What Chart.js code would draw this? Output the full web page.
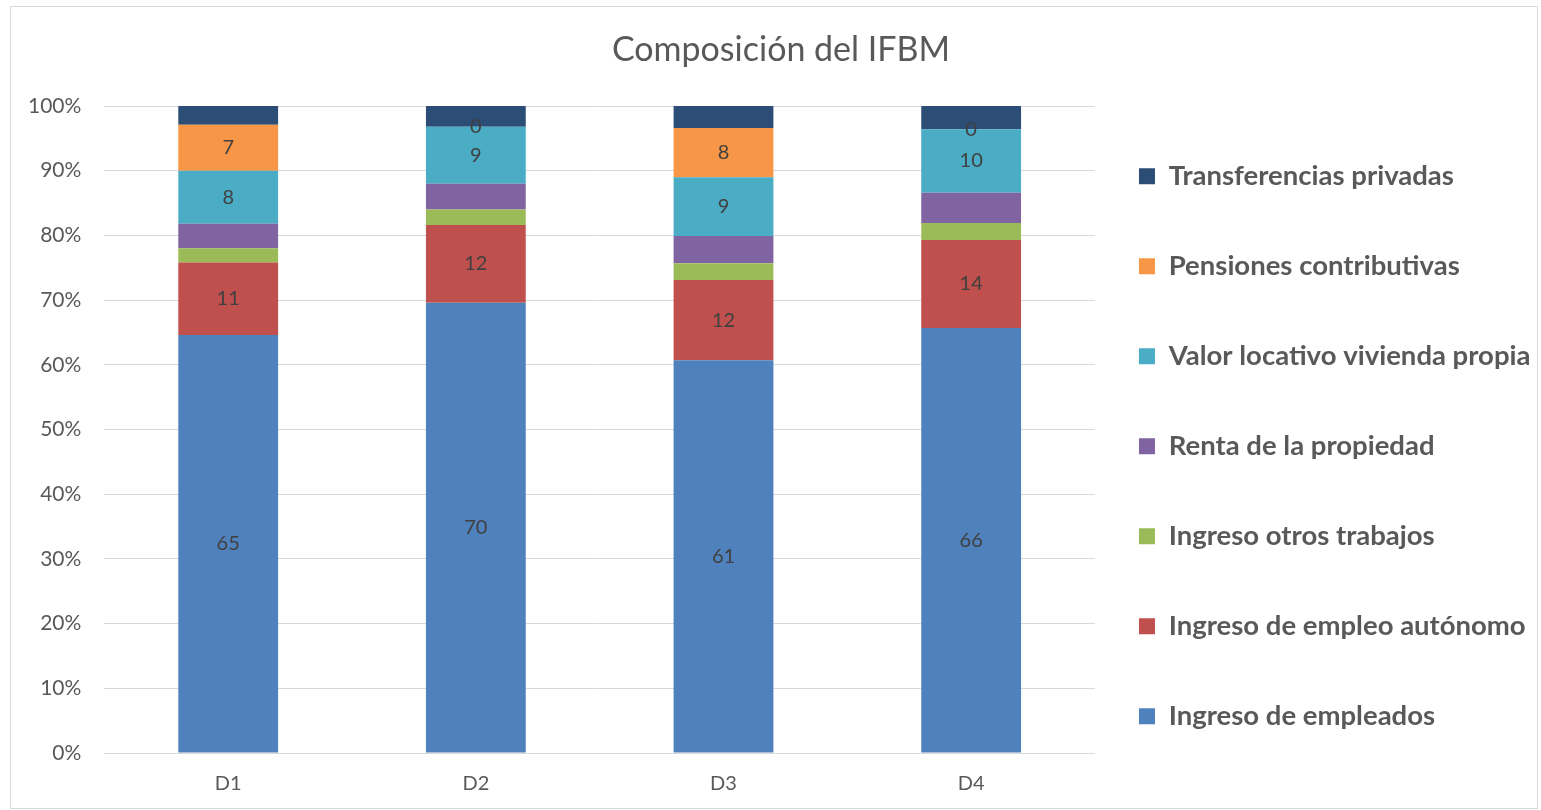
<!DOCTYPE html>
<html>
<head>
<meta charset="utf-8">
<script src="https://cdn.jsdelivr.net/npm/chart.js@4.4.1/dist/chart.umd.min.js"></script>
<style>
  body { margin: 0; background: #fff; }
  #marco { position: absolute; left: 10px; top: 6px; width: 1526px; height: 801px; border: 1px solid #d9d9d9; }
</style>
</head>
<body>
<div id="marco"><canvas id="grafico" width="1526" height="801"></canvas></div>
<script>
// datos (porcentajes de cada decil)
const deciles = ['D1', 'D2', 'D3', 'D4'];
const ingresoEmpleados = [64.6, 69.6, 60.7, 65.7];
const ingresoAutonomo = [11.2, 12.0, 12.4, 13.6];
const ingresoOtrosTrabajos = [2.2, 2.4, 2.6, 2.6];
const rentaPropiedad = [3.8, 4.0, 4.2, 4.7];
const valorLocativo = [8.2, 8.8, 9.1, 9.8];
const pensiones = [7.1, 0, 7.6, 0];
const transferencias = [2.9, 3.2, 3.4, 3.6];
const ticksY = [0, 10, 20, 30, 40, 50, 60, 70, 80, 90, 100];

const fuente = 'Lato';
const gris = '#595959';

const etiquetas = {
    id: 'etiquetas',
    afterLayout(chart) {
        // titulo centrado sobre todo el grafico y leyenda hasta el borde derecho
        if (chart.titleBlock) {
            chart.titleBlock.left = 14;
            chart.titleBlock.right = chart.width;
            chart.titleBlock.width = chart.width - 14;
        }
        if (chart.legend) {
            chart.legend.right = chart.width;
            chart.legend.width = chart.width - chart.legend.left;
        }
    },
    // etiquetas de valor dentro de las barras
    afterDatasetsDraw(chart) {
        const ctx = chart.ctx;
        ctx.save();
        ctx.font = '20px ' + fuente;
        ctx.fillStyle = '#404040';
        ctx.textAlign = 'center';
        ctx.textBaseline = 'middle';
        chart.data.datasets.forEach(function (ds, i) {
            if (!ds.conEtiqueta) return;
            chart.getDatasetMeta(i).data.forEach(function (barra, j) {
                const p = barra.getCenterPoint();
                ctx.fillText(Math.round(ds.data[j]), p.x, p.y);
            });
        });
        ctx.restore();
    }
};

function serie(nombre, datos, color, conEtiqueta) {
    return {
        label: nombre,
        data: datos,
        backgroundColor: color,
        borderWidth: 0,
        barPercentage: 0.403,
        categoryPercentage: 1,
        conEtiqueta: conEtiqueta
    };
}

new Chart('grafico', {
    type: 'bar',
    data: {
        labels: deciles,
        datasets: [
            serie('Ingreso de empleados', ingresoEmpleados, '#4f81bd', true),
            serie('Ingreso de empleo autónomo', ingresoAutonomo, '#c0504d', true),
            serie('Ingreso otros trabajos', ingresoOtrosTrabajos, '#9bbb59', false),
            serie('Renta de la propiedad', rentaPropiedad, '#8064a2', false),
            serie('Valor locativo vivienda propia', valorLocativo, '#4bacc6', true),
            serie('Pensiones contributivas', pensiones, '#f79646', true),
            serie('Transferencias privadas', transferencias, '#2c4d75', false)
        ]
    },
    options: {
        responsive: false,
        animation: false,
        layout: { padding: { left: -6, right: 78.7, top: 0, bottom: 15.5 } },
        plugins: {
            title: {
                display: true,
                text: 'Composición del IFBM',
                color: gris,
                font: { family: fuente, size: 34, weight: 'normal', lineHeight: 1.2 },
                padding: { top: 22.6, bottom: 35.6 }
            },
            legend: {
                position: 'right',
                align: 'end',
                reverse: true,
                labels: {
                    boxWidth: 16,
                    boxHeight: 16,
                    padding: 44,
                    color: gris,
                    font: { family: fuente, size: 27.5, weight: 'bold', lineHeight: 46 / 27.5 },
                    generateLabels: function (chart) {
                        return Chart.defaults.plugins.legend.labels.generateLabels(chart).map(function (item) {
                            item.text = [item.text];
                            return item;
                        });
                    }
                }
            },
            tooltip: { enabled: false }
        },
        scales: {
            x: {
                stacked: true,
                grid: { display: false, tickLength: 22.5 },
                border: { color: '#d9d9d9' },
                ticks: { color: gris, padding: 0, font: { family: fuente, size: 20, lineHeight: 17 / 20 } }
            },
            y: {
                stacked: true,
                min: 0,
                max: 100,
                afterBuildTicks: function (axis) {
                    axis.ticks = ticksY.map(function (v) { return { value: v }; });
                },
                grid: { color: '#d9d9d9', drawTicks: false },
                border: { display: false },
                ticks: {
                    color: gris,
                    padding: 23,
                    font: { family: fuente, size: 21 },
                    callback: function (v) { return v + '%'; }
                }
            }
        }
    },
    plugins: [etiquetas]
});
</script>
</body>
</html>
